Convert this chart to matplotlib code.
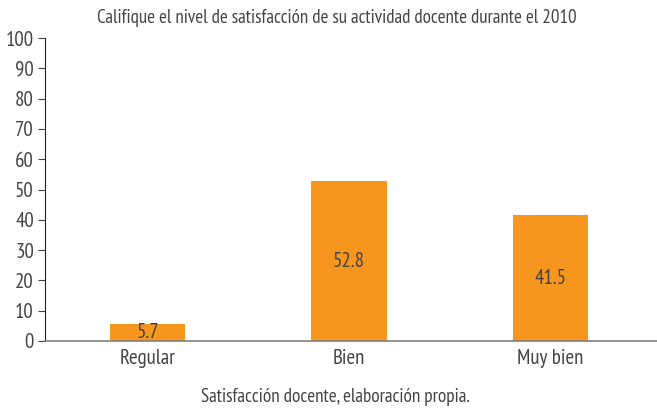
import matplotlib
matplotlib.use('Agg')
import matplotlib.pyplot as plt

# data
categorias = ['Regular', 'Bien', 'Muy bien']
porcentajes = [5.7, 52.8, 41.5]
yticks = [0, 10, 20, 30, 40, 50, 60, 70, 80, 90, 100]

titulo = 'Califique el nivel de satisfacción de su actividad docente durante el 2010'
etiqueta_x = 'Satisfacción docente, elaboración propia.'

plt.rcParams['font.family'] = ['PT Sans Narrow', 'DejaVu Sans']
texto = '#444444'

fig = plt.figure(figsize=(6.57, 4.09), dpi=100)
ax = fig.add_axes([45 / 657, 68 / 409, 1 - 45 / 657, 303 / 409])

x = range(len(categorias))
bars = ax.bar(x, porcentajes, width=0.375, color='#F7961E')

# value labels in the middle of each bar
for b, v in zip(bars, porcentajes):
    ax.text(b.get_x() + b.get_width() / 2, v / 2, str(v), ha='center', va='center',
            fontsize=15, color=texto)

ax.set_xlim(-0.51, 2.53)
ax.set_ylim(0, 100)
ax.set_yticks(yticks)
ax.set_xticks(list(x))
ax.set_xticklabels(categorias)
ax.tick_params(axis='x', length=0, labelsize=15, colors=texto, pad=6)
ax.tick_params(axis='y', length=5, labelsize=15, colors=texto, pad=3)

ax.spines['top'].set_visible(False)
ax.spines['right'].set_visible(False)
ax.spines['left'].set_color('#222222')
ax.spines['bottom'].set_color('#808080')
ax.spines['bottom'].set_linewidth(1.2)

fig.text(337 / 657, 1 - 18 / 409, titulo, ha='center', va='center', fontsize=13.7, color=texto)
fig.text(335 / 657, 1 - 397 / 409, etiqueta_x, ha='center', va='center', fontsize=13.8, color=texto)

fig.savefig('out.png', dpi=100)
